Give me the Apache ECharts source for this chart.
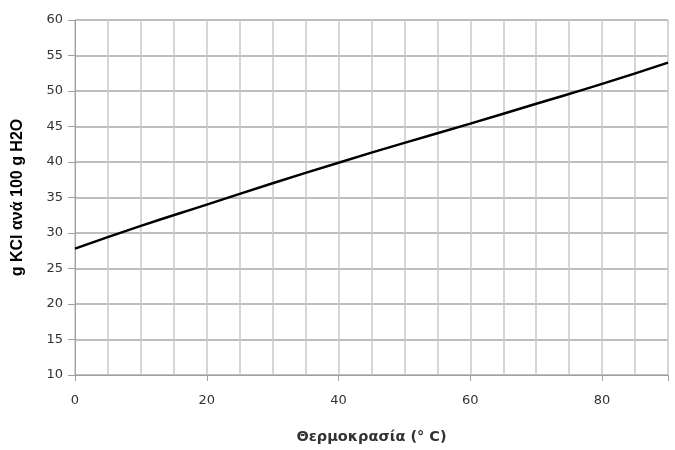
<!DOCTYPE html>
<html><head><meta charset="utf-8">
<script src="https://cdn.jsdelivr.net/npm/echarts@6/dist/echarts.min.js"></script>
<style>html,body{margin:0;padding:0;background:#fff}#c{width:675px;height:450px}</style>
</head><body><div id="c"></div>
<script>
const temps = [0, 10, 20, 30, 40, 50, 60, 70, 80, 90];
const solubility = [27.8, 31.0, 34.0, 37.0, 39.9, 42.7, 45.4, 48.2, 51.0, 54.0];
const xTitle = 'Θερμοκρασία (° C)';
const yTitle = 'g KCl ανά 100 g H2O';

const chart = echarts.init(document.getElementById('c'));
const lblFont = {fontFamily: 'DejaVu Sans', fontSize: 13, color: '#333'};
chart.setOption({
  animation: false,
  grid: {left: 75, right: 7, top: 20, bottom: 74},
  xAxis: [{
    type: 'value', min: 0, max: 90, interval: 5,
    axisLine: {show: true, lineStyle: {color: '#a0a0a0', width: 1}},
    axisTick: {show: false},
    axisLabel: {show: false},
    splitLine: {show: true, lineStyle: {color: '#c8c8c8', width: 1.5}}
  }, {
    type: 'value', min: 0, max: 90, interval: 20, position: 'bottom',
    axisLine: {show: false},
    axisTick: {show: true, length: 6, lineStyle: {color: '#a0a0a0'}},
    axisLabel: Object.assign({margin: 19, formatter: v => (v % 20 === 0 ? String(v) : '')}, lblFont),
    splitLine: {show: false},
    name: xTitle, nameLocation: 'middle', nameGap: 55,
    nameTextStyle: {fontFamily: 'DejaVu Sans', fontSize: 14.5, fontWeight: 'bold', color: '#333'}
  }],
  yAxis: {
    type: 'value', min: 10, max: 60, interval: 5,
    axisLine: {show: true, lineStyle: {color: '#a0a0a0', width: 1}},
    axisTick: {show: true, length: 7, lineStyle: {color: '#a0a0a0'}},
    axisLabel: Object.assign({margin: 12}, lblFont),
    splitLine: {show: true, lineStyle: {color: '#a8a8a8', width: 1.5}},
    name: yTitle, nameLocation: 'middle', nameGap: 49, nameRotate: 90,
    nameTextStyle: {fontFamily: 'Liberation Sans', fontSize: 16, fontWeight: 'bold', color: '#000'}
  },
  series: [{
    type: 'line', xAxisIndex: 0,
    data: temps.map((t, i) => [t, solubility[i]]),
    showSymbol: false, smooth: true,
    lineStyle: {color: '#000', width: 2.5}
  }]
});
</script></body></html>
